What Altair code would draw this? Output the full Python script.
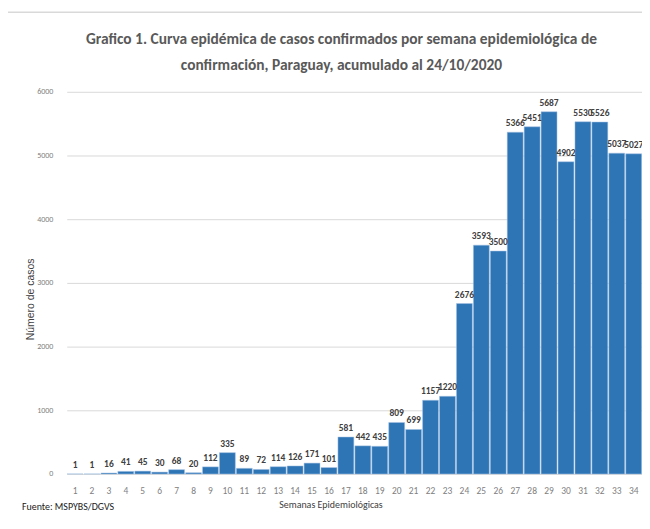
import altair as alt
import pandas as pd

semanas = list(range(1, 35))
casos = [1, 1, 16, 41, 45, 30, 68, 20, 112, 335, 89, 72, 114, 126, 171, 101,
         581, 442, 435, 809, 699, 1157, 1220, 2676, 3593, 3500, 5366, 5451,
         5687, 4902, 5530, 5526, 5037, 5027]
y_ticks = [0, 1000, 2000, 3000, 4000, 5000, 6000]
titulo = ["Grafico 1. Curva epidémica de casos confirmados por semana epidemiológica de",
          "confirmación, Paraguay, acumulado al 24/10/2020"]

df = pd.DataFrame({"semana": semanas, "casos": casos})

FONT = "Carlito, Lato, sans-serif"

x_enc = alt.X("semana:O", sort=semanas,
              scale=alt.Scale(paddingInner=0.06, paddingOuter=0.02),
              axis=alt.Axis(title="Semanas Epidemiológicas", labelAngle=0,
                            labelFontSize=9.5, labelColor="#808080", labelFont=FONT,
                            labelPadding=12, ticks=False, domain=False,
                            titleFont=FONT, titleFontSize=10, titleFontWeight="normal",
                            titleColor="#404040", titlePadding=4, titleX=265))
y_enc = alt.Y("casos:Q", scale=alt.Scale(domain=[0, 6000], nice=False),
              axis=alt.Axis(title="Número de casos", values=y_ticks, format="d",
                            labelFontSize=8, labelColor="#808080", labelFont=FONT,
                            labelPadding=14, ticks=False, domain=False,
                            gridColor="#d9d9d9", gridWidth=1,
                            titleFont="Liberation Sans, Arial, sans-serif",
                            titleFontSize=10.5, titleFontWeight="normal",
                            titleColor="#404040", titlePadding=1, titleY=208))

bars = alt.Chart(df).mark_bar(color="#2E75B6", stroke="#a9c4e4", strokeWidth=0.5).encode(
    x=x_enc, y=y_enc)

labels = alt.Chart(df).mark_text(dy=-9, fontSize=9.5, fontWeight="bold",
                                 color="#404040", font=FONT).encode(
    x=alt.X("semana:O", sort=semanas), y="casos:Q", text="casos:Q")

fuente = alt.Chart(pd.DataFrame({"t": ["Fuente: MSPYBS/DGVS"]})).mark_text(
    align="left", baseline="middle", fontSize=10, color="#202020", font=FONT
).encode(x=alt.value(-45), y=alt.value(417), text="t:N")

tit1 = alt.Chart(pd.DataFrame({"t": [titulo[0]]})).mark_text(
    align="center", baseline="middle", fontSize=15.5, fontWeight="bold",
    color="#595959", font=FONT
).encode(x=alt.value(276), y=alt.value(-53), text="t:N")
tit2 = alt.Chart(pd.DataFrame({"t": [titulo[1]]})).mark_text(
    align="center", baseline="middle", fontSize=15.5, fontWeight="bold",
    color="#595959", font=FONT
).encode(x=alt.value(276), y=alt.value(-27), text="t:N")

borde_sup = alt.Chart(pd.DataFrame({"a": [0]})).mark_rule(color="#d9d9d9", strokeWidth=1.5).encode(
    x=alt.value(-61), x2=alt.value(590), y=alt.value(-80))
borde_izq = alt.Chart(pd.DataFrame({"a": [0]})).mark_rule(color="#d9d9d9", strokeWidth=1.5).encode(
    x=alt.value(-61), y=alt.value(-80), y2=alt.value(440))

chart = alt.layer(bars, labels, fuente, tit1, tit2, borde_sup, borde_izq).properties(
    width=578, height=384,
    autosize=alt.AutoSizeParams(type="none"),
    padding={"left": 59, "top": 83, "right": 0, "bottom": 40},
).configure_view(stroke=None)

chart.save("out.html", embed_options={"renderer": "svg", "actions": False})
